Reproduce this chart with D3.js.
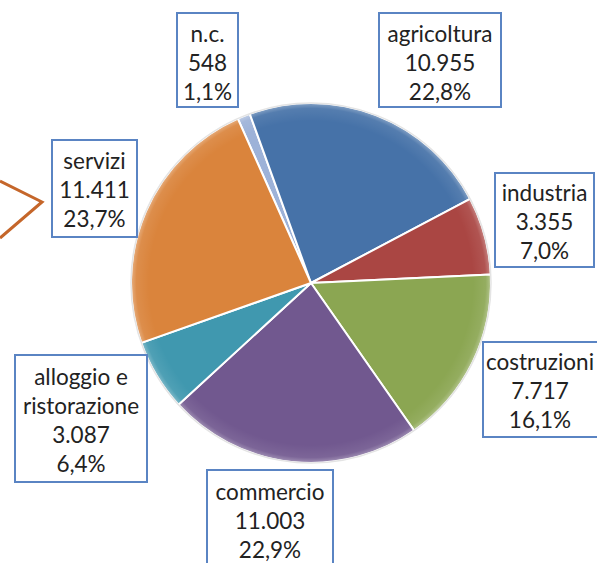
<!DOCTYPE html>
<html><head><meta charset="utf-8">
<script src="https://cdn.jsdelivr.net/npm/d3@7"></script>
<style>body{margin:0;background:#fff;}svg{display:block;}</style>
</head><body>
<svg id="chart" width="597" height="563"></svg>
<script>
// ---- data ----
const categories = ["n.c.", "agricoltura", "industria", "costruzioni", "commercio", "alloggio e\nristorazione", "servizi"];
const values = [548, 10955, 3355, 7717, 11003, 3087, 11411];
const colors = ["#9DB2D8", "#4672A8", "#AA4643", "#8BA652", "#71588F", "#4098AF", "#DA843C"];

// ---- layout (label boxes) ----
const boxes = [
  {x:177, y:13,  w:61,  h:94,  cy:62},
  {x:379, y:13,  w:122, h:94,  cy:62},
  {x:495, y:173, w:99,  h:94,  cy:221},
  {x:483, y:342, w:118, h:95,  cy:390},
  {x:207, y:470, w:126, h:110, cy:520},
  {x:15,  y:355, w:132, h:127, cy:420},
  {x:52,  y:140, w:85,  h:97,  cy:189}
];

const svg = d3.select("#chart");
const cx = 311, cy = 283, r = 180;
const total = d3.sum(values);
const it = d3.formatLocale({decimal: ",", thousands: ".", grouping: [3], currency: ["€", ""]});
const fmtN = it.format(",d");
const fmtP = it.format(".1f");

const pie = d3.pie().sort(null).value(d => d).startAngle(-24 * Math.PI / 180).endAngle((360 - 24) * Math.PI / 180);
const arc = d3.arc().innerRadius(0).outerRadius(r);
const arcs = pie(values);

// chevron
svg.append("polyline")
  .attr("points", "0,181 42,202 0,238")
  .attr("fill", "none").attr("stroke", "#C5662A").attr("stroke-width", 3);

const defs = svg.append("defs");
const grad = defs.append("radialGradient").attr("id", "shade").attr("cx", "50%").attr("cy", "50%").attr("r", "50%");
grad.append("stop").attr("offset", "0.9").attr("stop-color", "#fff").attr("stop-opacity", 0);
grad.append("stop").attr("offset", "0.97").attr("stop-color", "#fff").attr("stop-opacity", 0.08);
grad.append("stop").attr("offset", "1").attr("stop-color", "#fff").attr("stop-opacity", 0.35);

const g = svg.append("g").attr("transform", `translate(${cx},${cy})`);
g.selectAll("path.slice").data(arcs).join("path")
  .attr("class", "slice")
  .attr("d", arc)
  .attr("fill", (d, i) => colors[i])
  .attr("stroke", "#fff").attr("stroke-width", 2).attr("stroke-linejoin", "round");
g.append("circle").attr("r", r).attr("fill", "url(#shade)").attr("stroke", "#e4e4e4").attr("stroke-width", 1.5);

// label boxes
const lineH = 29;
categories.forEach((c, i) => {
  const b = boxes[i];
  const lines = c.split("\n").concat([fmtN(values[i]), fmtP(values[i] / total * 100) + "%"]);
  svg.append("rect").attr("x", b.x).attr("y", b.y).attr("width", b.w).attr("height", b.h)
    .attr("fill", "#fff").attr("stroke", "#5A84C3").attr("stroke-width", 2);
  const x = b.x + b.w / 2 + (i === 3 ? -2 : 0);
  const y0 = b.cy - (lines.length - 1) * lineH / 2;
  const t = svg.append("text").attr("text-anchor", "middle")
    .attr("font-family", "Lato, 'Open Sans', sans-serif").attr("font-size", 22.5).attr("fill", "#222");
  lines.forEach((l, k) => {
    t.append("tspan").attr("x", x).attr("y", y0 + k * lineH).attr("dominant-baseline", "central").text(l);
  });
});
</script>
</body></html>
